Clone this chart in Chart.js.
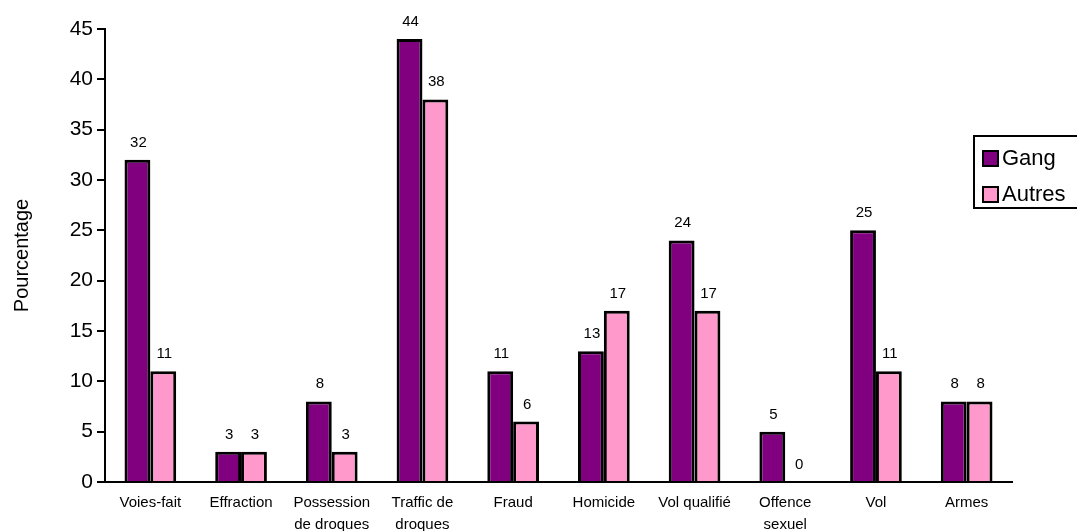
<!DOCTYPE html>
<html>
<head>
<meta charset="utf-8">
<script src="https://cdn.jsdelivr.net/npm/chart.js@4"></script>
<style>
  html, body { margin: 0; padding: 0; background: #ffffff; }
  #wrap { width: 1077px; height: 531px; position: relative; }
</style>
</head>
<body>
<div id="wrap"><canvas id="c" width="1077" height="531"></canvas></div>
<script>
const categories = ["Voies-fait", "Effraction", ["Possession", "de droques"], ["Traffic de", "droques"], "Fraud", "Homicide", "Vol qualifié", ["Offence", "sexuel"], "Vol", "Armes"];
const gangValues = [32, 3, 8, 44, 11, 13, 24, 5, 25, 8];
const autresValues = [11, 3, 3, 38, 6, 17, 17, 0, 11, 8];
const seriesNames = ["Gang", "Autres"];
const seriesColors = ["#800080", "#FF99CC"];
const yTicks = [0, 5, 10, 15, 20, 25, 30, 35, 40, 45];
const yTitle = "Pourcentage";

const FONT = "'Liberation Sans', Arial, sans-serif";

const valueLabels = {
  id: 'valueLabels',
  afterDatasetsDraw(chart) {
    const ctx = chart.ctx;
    ctx.save();
    ctx.font = "15px " + FONT;
    ctx.fillStyle = "#000";
    ctx.textAlign = "center";
    ctx.textBaseline = "alphabetic";
    chart.data.datasets.forEach((ds, i) => {
      const meta = chart.getDatasetMeta(i);
      meta.data.forEach((bar, j) => {
        ctx.fillText(String(ds.data[j]), bar.x + 1, bar.y - 13);
      });
    });
    ctx.restore();
  }
};

const boxLegend = {
  id: 'boxLegend',
  afterDraw(chart) {
    const ctx = chart.ctx;
    ctx.save();
    ctx.strokeStyle = "#000";
    ctx.lineWidth = 2;
    ctx.strokeRect(974, 136, 110, 72);
    ctx.font = "22px " + FONT;
    ctx.textBaseline = "middle";
    ctx.textAlign = "left";
    chart.data.datasets.forEach((ds, i) => {
      const cy = 159 + i * 36;
      ctx.fillStyle = ds.backgroundColor;
      ctx.fillRect(983, cy - 8, 15, 15);
      ctx.lineWidth = 2;
      ctx.strokeRect(983, cy - 8, 15, 15);
      ctx.fillStyle = "#000";
      ctx.fillText(ds.label, 1002, cy);
    });
    ctx.restore();
  }
};

new Chart(document.getElementById('c'), {
  type: 'bar',
  data: {
    labels: categories,
    datasets: [
      { label: seriesNames[0], data: gangValues, backgroundColor: seriesColors[0], borderColor: "#000", borderWidth: 3, borderSkipped: 'bottom', categoryPercentage: 0.57, barPercentage: 1.0 },
      { label: seriesNames[1], data: autresValues, backgroundColor: seriesColors[1], borderColor: "#000", borderWidth: 3, borderSkipped: 'bottom', categoryPercentage: 0.57, barPercentage: 1.0 }
    ]
  },
  options: {
    responsive: false,
    animation: false,
    devicePixelRatio: 1,
    layout: { padding: { top: 29, right: 65, bottom: 0, left: 0 } },
    plugins: {
      legend: { display: false },
      tooltip: { enabled: false }
    },
    scales: {
      x: {
        grid: { display: false, drawOnChartArea: false, drawTicks: false },
        border: { display: true, color: "#000", width: 2 },
        ticks: { color: "#000", font: { family: FONT, size: 15, lineHeight: 1.45 }, padding: 10, maxRotation: 0, autoSkip: false },
        afterFit(scale) { scale.height = 49; }
      },
      y: {
        min: 0, max: 45,
        afterBuildTicks(scale) { scale.ticks = yTicks.map(v => ({ value: v })); },
        grid: { display: true, drawOnChartArea: false, drawTicks: true, tickLength: 8, color: "#000", lineWidth: 2 },
        border: { display: true, color: "#000", width: 2 },
        ticks: { color: "#000", font: { family: FONT, size: 21 }, padding: 4 },
        title: { display: true, text: yTitle, color: "#000", font: { family: FONT, size: 20 }, padding: { top: 10, bottom: 0 } },
        afterFit(scale) { scale.width = 105; }
      }
    }
  },
  plugins: [valueLabels, boxLegend]
});
</script>
</body>
</html>
